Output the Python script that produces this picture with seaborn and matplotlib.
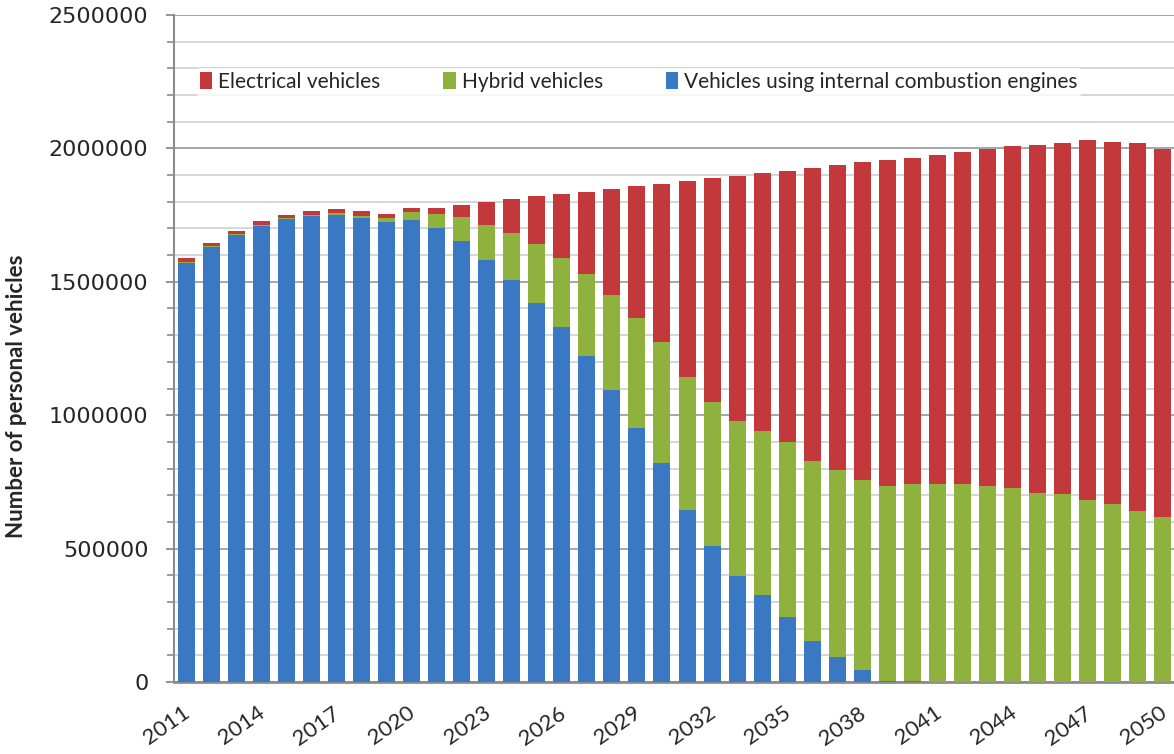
import matplotlib.pyplot as plt
import matplotlib.transforms as mtransforms
from matplotlib.ticker import MultipleLocator, FuncFormatter
from matplotlib.patches import Patch
import seaborn as sns
import pandas as pd

sns.set_theme(style="white")
plt.rcParams['font.family'] = ['DejaVu Sans']

# --- data ---
years = list(range(2011, 2051))

ice = [1570000, 1630000, 1674000, 1709000, 1734000, 1746000, 1749000, 1738000, 1725000, 1732000,
       1703000, 1653000, 1582000, 1507000, 1422000, 1329000, 1222000, 1094000, 951000, 820000,
       645000, 510000, 397000, 326000, 245000, 155000, 95000, 45000, 5000, 4000,
       1000, 0, 0, 0, 0, 0, 0, 0, 0, 0]

hybrid = [5000, 4000, 4000, 5000, 4000, 6000, 7000, 10000, 14000, 30000,
          51000, 89000, 131000, 177000, 220000, 261000, 307000, 358000, 414000, 455000,
          497000, 538000, 581000, 615000, 656000, 674000, 701000, 712000, 730000, 738000,
          741000, 742000, 735000, 726000, 707000, 703000, 682000, 666000, 641000, 618000]

electric = [13000, 10000, 11000, 14000, 11000, 13000, 16000, 17000, 14000, 15000,
            23000, 46000, 87000, 126000, 179000, 239000, 308000, 395000, 494000, 591000,
            735000, 840000, 917000, 965000, 1013000, 1096000, 1142000, 1191000, 1221000, 1221000,
            1233000, 1244000, 1263000, 1283000, 1306000, 1317000, 1349000, 1358000, 1379000, 1380000]

series_names = ['Electrical vehicles', 'Hybrid vehicles',
                'Vehicles using internal combustion engines']
colors = ['#c3383a', '#8fb23e', '#3b78c3']

df = pd.DataFrame({'year': [str(y) for y in years], 'ice': ice,
                   'hybrid': hybrid, 'electric': electric})
# cumulative heights so that bars drawn on top of each other look stacked
df['top_hybrid'] = df['ice'] + df['hybrid']
df['top_electric'] = df['top_hybrid'] + df['electric']

fig = plt.figure(figsize=(11.74, 7.54), dpi=100)
ax = fig.add_axes([173.5 / 1174, 72 / 754, 1002 / 1174, 667 / 754])

for col, c in zip(['top_electric', 'top_hybrid', 'ice'], colors):
    sns.barplot(data=df, x='year', y=col, color=c, width=0.68,
                saturation=1, linewidth=0, ax=ax, zorder=3)

ax.set_xlim(-0.5, 39.5)
ax.set_ylim(0, 2500000)
ax.yaxis.set_major_locator(MultipleLocator(500000))
ax.yaxis.set_minor_locator(MultipleLocator(100000))
ax.yaxis.set_major_formatter(FuncFormatter(lambda v, p: f"{int(v)}"))
ax.grid(axis='y', which='major', color='#a6a6a6', linewidth=1.4, zorder=0)
ax.grid(axis='y', which='minor', color='#cfcfcf', linewidth=1.2, zorder=0)
ax.set_axisbelow(True)

ax.tick_params(axis='y', which='major', direction='out', length=6, width=1.3,
               color='#8c8c8c', labelsize=16, pad=12, left=True)
ax.tick_params(axis='y', which='minor', direction='out', length=5, width=1.2,
               color='#8c8c8c', left=True)
ax.tick_params(axis='x', length=0, pad=15)

sns.despine(ax=ax)
ax.spines['left'].set_color('#8c8c8c')
ax.spines['left'].set_linewidth(1.5)
ax.spines['bottom'].set_color('#8c8c8c')
ax.spines['bottom'].set_linewidth(2)

ax.set_xticks(range(0, 40, 3))
ax.set_xticklabels([str(y) for y in years[::3]], rotation=35, ha='right', va='top',
                   rotation_mode='anchor', fontsize=16, family='Lato')
offset = mtransforms.ScaledTranslation(-4 / 100, 0, fig.dpi_scale_trans)
for lbl in ax.get_xticklabels():
    lbl.set_transform(lbl.get_transform() + offset)

ax.set_xlabel('')
ax.set_ylabel('')
fig.text(17 / 1174, 1 - 396 / 754, 'Number of personal vehicles', rotation=90,
         ha='center', va='center', fontsize=16, fontweight='bold', family='Lato')

handles = [Patch(facecolor=c, edgecolor='none') for c in colors]
leg = ax.legend(handles, series_names, ncol=3, loc='center left',
                bbox_to_anchor=(22 / 1002, 1 - 67 / 667), frameon=True,
                fontsize=15, handlelength=0.6, handleheight=0.9, handletextpad=0.3,
                columnspacing=3.0, borderpad=0.2, borderaxespad=0)
leg.get_frame().set_facecolor('white')
leg.get_frame().set_edgecolor('none')
for t in leg.get_texts():
    t.set_family('Lato')

plt.savefig('out.png', dpi=100)
